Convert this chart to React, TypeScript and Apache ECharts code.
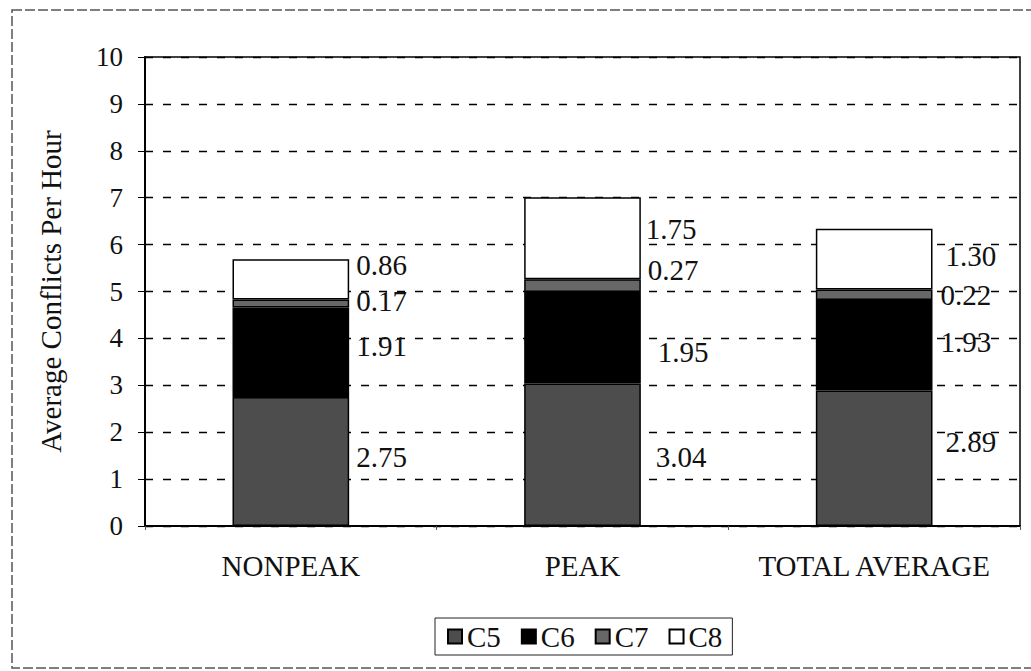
import React, { useEffect, useRef } from "react";
import * as echarts from "echarts";

const categories = ["NONPEAK", "PEAK", "TOTAL AVERAGE"];
const seriesNames = ["C5", "C6", "C7", "C8"];
const c5 = [2.75, 3.04, 2.89];
const c6 = [1.91, 1.95, 1.93];
const c7 = [0.17, 0.27, 0.22];
const c8 = [0.86, 1.75, 1.3];
const yTicks = [0, 1, 2, 3, 4, 5, 6, 7, 8, 9, 10];

// label nudges [dx, dy] per series per category (style only)
const labelNudges = [
  [[2, -5], [10, 2], [8, -16]],
  [[2, -6], [12, 14], [3, -3]],
  [[2, -2], [2, -16], [3, 0]],
  [[2, -14], [0, -9], [8, -3]],
];

const colors = ["#4d4d4d", "#000000", "#676767", "#ffffff"];
const FONT = "'Liberation Serif', 'Times New Roman', serif";

export default function App() {
  const ref = useRef<HTMLDivElement>(null);
  useEffect(() => {
    document.body.style.margin = "0";
    const chart = echarts.init(ref.current!, null, { renderer: "svg" });
    const dataSets = [c5, c6, c7, c8];
    chart.setOption({
      animation: false,
      backgroundColor: "#ffffff",
      textStyle: { fontFamily: FONT, color: "#111" },
      grid: {
        left: 145,
        right: 11,
        top: 57,
        bottom: 145,
        show: true,
        borderColor: "#000",
        borderWidth: 1.5,
        backgroundColor: "transparent",
      },
      legend: {
        bottom: 16,
        left: 435,
        itemWidth: 14,
        itemHeight: 14,
        itemGap: 20,
        padding: [4, 10, 4, 12],
        borderColor: "#222",
        borderWidth: 1,
        textStyle: { fontFamily: FONT, fontSize: 29, color: "#111", padding: [0, 0, 0, 0] },
        data: seriesNames.map((n) => ({ name: n, icon: "rect" })),
      },
      xAxis: {
        type: "category",
        data: categories,
        axisLine: { lineStyle: { color: "#000", width: 2 } },
        axisTick: { show: true, alignWithLabel: false, length: 4, lineStyle: { color: "#555" } },
        axisLabel: { interval: 0, hideOverlap: false, fontFamily: FONT, fontSize: 29, color: "#111", margin: 25 },
      },
      yAxis: {
        type: "value",
        min: yTicks[0],
        max: yTicks[yTicks.length - 1],
        interval: 1,
        name: "Average Conflicts Per Hour",
        nameLocation: "middle",
        nameGap: 80,
        nameTextStyle: { fontFamily: FONT, fontSize: 29, color: "#111" },
        axisLine: { show: true, lineStyle: { color: "#000", width: 2 } },
        axisTick: { show: true, inside: false, length: 7, lineStyle: { color: "#000" } },
        axisLabel: { fontFamily: FONT, fontSize: 27, color: "#111", margin: 22 },
        splitLine: { show: true, lineStyle: { color: "#000", type: [8, 10], width: 1.3 } },
      },
      graphic: [
        {
          type: "rect",
          shape: { x: 12, y: 10, width: 1040, height: 658 },
          style: { fill: "none", stroke: "#555", lineWidth: 1.5, lineDash: [10, 3] },
          silent: true,
          z: -1,
        },
      ],
      series: seriesNames.map((name, si) => ({
        name,
        type: "bar",
        stack: "total",
        barWidth: "40%",
        itemStyle: { color: colors[si], borderColor: "#000", borderWidth: 1.5 },
        data: dataSets[si].map((v, ci) => ({
          value: v,
          label: {
            show: true,
            position: "right",
            distance: 5,
            offset: labelNudges[si][ci],
            fontFamily: FONT,
            fontSize: 29,
            color: "#111",
            formatter: (p: any) => Number(p.value).toFixed(2),
          },
        })),
      })),
    });
    return () => chart.dispose();
  }, []);
  return <div ref={ref} style={{ width: 1031, height: 671 }} />;
}
